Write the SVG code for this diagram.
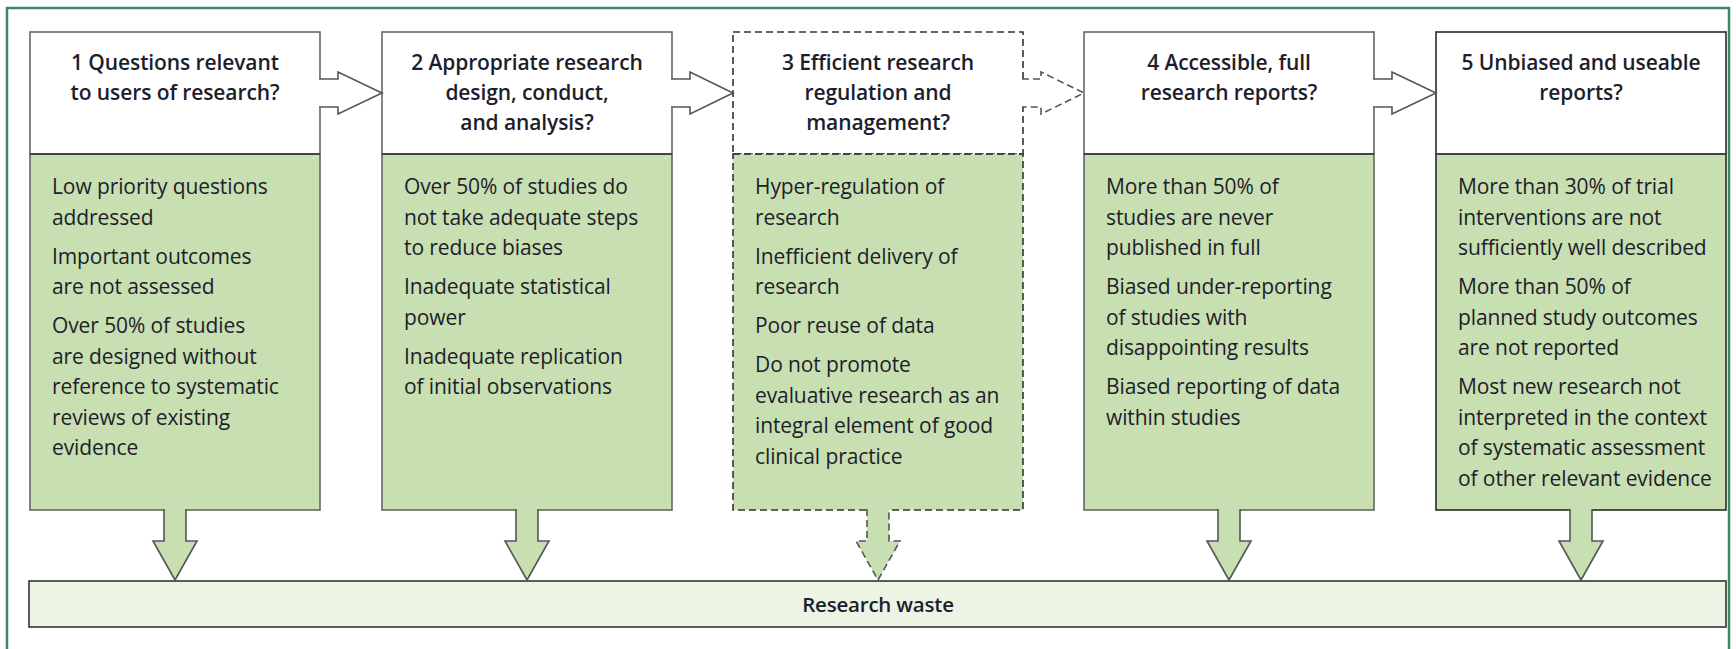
<svg xmlns="http://www.w3.org/2000/svg" width="1736" height="649" viewBox="0 0 1736 649">
<style>
.frame{fill:none;stroke:#3a8a62;stroke-width:2.5}
.hdr{fill:#fff;stroke:#666;stroke-width:1.6}
.body{fill:#c8dfb2;stroke:#666;stroke-width:1.6}
.dk{stroke:#2a2a2a}
.dash{stroke:#333;stroke-dasharray:7 4}
.div{stroke:#444;stroke-width:2}
.ht{font-family:"Open Sans","Liberation Sans",sans-serif;font-weight:600;font-size:21px;fill:#1d1d2b;text-anchor:middle;letter-spacing:-0.1px}
.bt{font-family:"Open Sans","Liberation Sans",sans-serif;font-weight:400;font-size:21px;fill:#1d1d2b;letter-spacing:-0.1px}
.wt{font-family:"Open Sans","Liberation Sans",sans-serif;font-weight:600;font-size:20.5px;fill:#1d1d2b;text-anchor:middle;letter-spacing:-0.2px}
.ra{fill:#fff;stroke:#555;stroke-width:1.6}
.da{fill:#c8dfb2;stroke:#555;stroke-width:1.6}
.waste{fill:#ecf4e4;stroke:#333;stroke-width:1.6}
</style>
<rect class="frame" x="7" y="8" width="1722" height="680"/>

<g id="node1">
<rect class="hdr" x="30" y="32" width="290" height="122"/>
<rect class="body" x="30" y="154" width="290" height="356"/>
<line class="div" x1="30" y1="154" x2="320" y2="154"/>
<text class="ht" x="175" y="70">1 Questions relevant</text>
<text class="ht" x="175" y="100">to users of research?</text>
<text class="bt" x="52" y="194">Low priority questions</text>
<text class="bt" x="52" y="224.5">addressed</text>
<text class="bt" x="52" y="263.5">Important outcomes</text>
<text class="bt" x="52" y="294">are not assessed</text>
<text class="bt" x="52" y="333">Over 50% of studies</text>
<text class="bt" x="52" y="363.5">are designed without</text>
<text class="bt" x="52" y="394">reference to systematic</text>
<text class="bt" x="52" y="424.5">reviews of existing</text>
<text class="bt" x="52" y="455">evidence</text>
</g>

<g id="node2">
<rect class="hdr" x="382" y="32" width="290" height="122"/>
<rect class="body" x="382" y="154" width="290" height="356"/>
<line class="div" x1="382" y1="154" x2="672" y2="154"/>
<text class="ht" x="527" y="70">2 Appropriate research</text>
<text class="ht" x="527" y="100">design, conduct,</text>
<text class="ht" x="527" y="130">and analysis?</text>
<text class="bt" x="404" y="194">Over 50% of studies do</text>
<text class="bt" x="404" y="224.5">not take adequate steps</text>
<text class="bt" x="404" y="255">to reduce biases</text>
<text class="bt" x="404" y="294">Inadequate statistical</text>
<text class="bt" x="404" y="324.5">power</text>
<text class="bt" x="404" y="363.5">Inadequate replication</text>
<text class="bt" x="404" y="394">of initial observations</text>
</g>

<g id="node3">
<rect class="hdr dash" x="733" y="32" width="290" height="122"/>
<rect class="body dash" x="733" y="154" width="290" height="356"/>
<line class="div dash" x1="733" y1="154" x2="1023" y2="154"/>
<text class="ht" x="878" y="70">3 Efficient research</text>
<text class="ht" x="878" y="100">regulation and</text>
<text class="ht" x="878" y="130">management?</text>
<text class="bt" x="755" y="194">Hyper-regulation of</text>
<text class="bt" x="755" y="224.5">research</text>
<text class="bt" x="755" y="263.5">Inefficient delivery of</text>
<text class="bt" x="755" y="294">research</text>
<text class="bt" x="755" y="333">Poor reuse of data</text>
<text class="bt" x="755" y="372">Do not promote</text>
<text class="bt" x="755" y="402.5">evaluative research as an</text>
<text class="bt" x="755" y="433">integral element of good</text>
<text class="bt" x="755" y="463.5">clinical practice</text>
</g>

<g id="node4">
<rect class="hdr" x="1084" y="32" width="290" height="122"/>
<rect class="body" x="1084" y="154" width="290" height="356"/>
<line class="div" x1="1084" y1="154" x2="1374" y2="154"/>
<text class="ht" x="1229" y="70">4 Accessible, full</text>
<text class="ht" x="1229" y="100">research reports?</text>
<text class="bt" x="1106" y="194">More than 50% of</text>
<text class="bt" x="1106" y="224.5">studies are never</text>
<text class="bt" x="1106" y="255">published in full</text>
<text class="bt" x="1106" y="294">Biased under-reporting</text>
<text class="bt" x="1106" y="324.5">of studies with</text>
<text class="bt" x="1106" y="355">disappointing results</text>
<text class="bt" x="1106" y="394">Biased reporting of data</text>
<text class="bt" x="1106" y="424.5">within studies</text>
</g>

<g id="node5">
<rect class="hdr dk" x="1436" y="32" width="290" height="122"/>
<rect class="body dk" x="1436" y="154" width="290" height="356"/>
<line class="div" x1="1436" y1="154" x2="1726" y2="154"/>
<text class="ht" x="1581" y="70">5 Unbiased and useable</text>
<text class="ht" x="1581" y="100">reports?</text>
<text class="bt" x="1458" y="194">More than 30% of trial</text>
<text class="bt" x="1458" y="224.5">interventions are not</text>
<text class="bt" x="1458" y="255">sufficiently well described</text>
<text class="bt" x="1458" y="294">More than 50% of</text>
<text class="bt" x="1458" y="324.5">planned study outcomes</text>
<text class="bt" x="1458" y="355">are not reported</text>
<text class="bt" x="1458" y="394">Most new research not</text>
<text class="bt" x="1458" y="424.5">interpreted in the context</text>
<text class="bt" x="1458" y="455">of systematic assessment</text>
<text class="bt" x="1458" y="485.5">of other relevant evidence</text>
</g>

<g id="waste">
<rect class="waste" x="29" y="581" width="1697" height="46"/>
<text class="wt" x="878" y="612">Research waste</text>
</g>

<g id="connectors">
<path class="ra" d="M319,79 H338 V72 L382,93 L338,114 V107 H319"/>
<path class="ra" d="M671,79 H690 V72 L733,93 L690,114 V107 H671"/>
<path class="ra dash" d="M1022,79 H1041 V72 L1084,93 L1041,114 V107 H1022"/>
<path class="ra" d="M1373,79 H1392 V72 L1436,93 L1392,114 V107 H1373"/>
<path class="da" d="M164,509 V541 H153 L175,580 L197,541 H186 V509"/>
<path class="da" d="M516,509 V541 H505 L527,580 L549,541 H538 V509"/>
<path class="da dash" d="M867,509 V541 H856 L878,580 L900,541 H889 V509"/>
<path class="da" d="M1218,509 V541 H1207 L1229,580 L1251,541 H1240 V509"/>
<path class="da" d="M1570,509 V541 H1559 L1581,580 L1603,541 H1592 V509"/>
</g>
</svg>
